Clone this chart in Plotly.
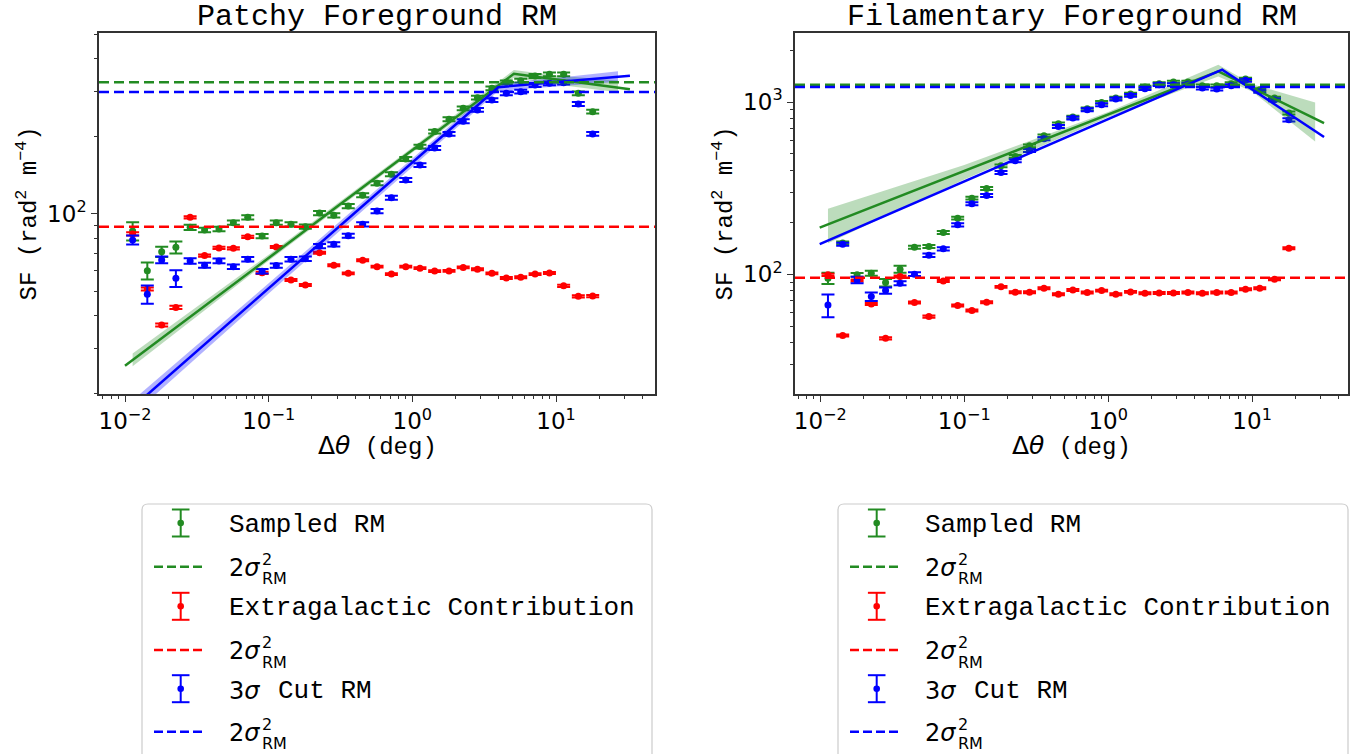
import plotly.graph_objects as go

W, H = 1354, 754

# ---------------- data ----------------
theta = [0.0113, 0.0143, 0.0180, 0.0226, 0.0284, 0.0358, 0.0451, 0.0568, 0.0715, 0.0900,
         0.113, 0.143, 0.180, 0.226, 0.284, 0.358, 0.451, 0.568, 0.715, 0.900,
         1.13, 1.43, 1.80, 2.26, 2.84, 3.58, 4.51, 5.68, 7.15, 9.00,
         11.3, 14.3, 18.0]

# Patchy foreground
patchy_sampled = [85.7, 60.0, 71.1, 74.0, 88.5, 86.4, 87.2, 92.3, 96.8, 81.8,
                  92.3, 90.9, 89.0, 100.6, 98.6, 107.1, 118.0, 131.3, 142.3, 163.2,
                  182.4, 208.6, 233.0, 257.0, 282.7, 307.3, 324.4, 329.3, 343.4, 348.7,
                  348.7, 294.0, 249.5]
patchy_sampled_err = [7.0, 4.6, 3.3, 4.0, 2.0, 1.8, 1.8, 1.8, 1.9, 1.6,
                      1.8, 1.8, 1.7, 1.9, 1.9, 2.0, 2.2, 2.4, 2.6, 2.9,
                      3.2, 3.6, 4.0, 4.4, 4.8, 5.2, 5.5, 5.6, 5.8, 5.9,
                      5.9, 5.0, 4.2]
patchy_extragal = [83.4, 50.9, 36.9, 43.2, 96.8, 68.7, 73.6, 73.3, 81.3, 58.9,
                   74.2, 55.2, 52.8, 70.5, 63.0, 58.6, 65.9, 62.2, 58.2, 62.2,
                   61.4, 59.8, 59.9, 61.8, 60.8, 58.6, 56.2, 56.6, 58.2, 58.8,
                   52.4, 47.7, 47.8]
patchy_extragal_err = [1.2, 0.7, 0.5, 0.6, 1.0, 0.7, 0.7, 0.7, 0.8, 0.6,
                       0.7, 0.5, 0.5, 0.6, 0.6, 0.5, 0.6, 0.5, 0.5, 0.5,
                       0.5, 0.5, 0.5, 0.5, 0.5, 0.5, 0.5, 0.5, 0.5, 0.5,
                       0.5, 0.5, 0.5]
patchy_cut = [79.0, 48.6, 66.1, 56.1, 65.5, 63.0, 65.5, 62.2, 66.5, 59.7,
              62.8, 66.5, 66.8, 74.8, 76.0, 82.1, 90.9, 102.4, 115.4, 135.3,
              154.6, 180.2, 204.3, 228.9, 253.3, 276.8, 294.0, 298.3, 316.7, 321.6,
              323.3, 267.2, 204.3]
patchy_cut_err = [3.2, 4.0, 2.0, 4.2, 1.6, 1.4, 1.4, 1.3, 1.4, 1.2,
                  1.2, 1.3, 1.3, 1.4, 1.4, 1.5, 1.7, 1.9, 2.1, 2.4,
                  2.7, 3.1, 3.5, 3.9, 4.3, 4.7, 5.0, 5.1, 5.4, 5.5,
                  5.5, 4.6, 3.5]
patchy_var_sampled = 324.3
patchy_var_extragal = 89.0
patchy_var_cut = 297.6

patchy_fit_sampled_x = [0.01, 5.09, 32.7]
patchy_fit_sampled_y = [25.6, 350.0, 305.0]
patchy_fit_cut_x = [0.01, 3.96, 32.7]
patchy_fit_cut_y = [16.6, 310.5, 344.0]
patchy_band_sampled_x = [0.0113, 0.1, 1.0, 5.09, 10.0, 27.0]
patchy_band_sampled_lo = [25.5, 65.6, 173.0, 338.0, 318.0, 297.0]
patchy_band_sampled_hi = [28.6, 69.3, 181.0, 362.0, 345.0, 330.0]
patchy_band_cut_x = [0.0113, 0.1, 1.0, 3.96, 10.0, 27.0]
patchy_band_cut_lo = [16.5, 48.9, 152.0, 300.0, 313.0, 326.0]
patchy_band_cut_hi = [18.8, 53.6, 164.0, 321.0, 337.0, 358.0]

# Filamentary foreground
fil_sampled = [94.8, 152.0, 99.1, 101.3, 89.4, 106.9, 143.5, 144.7, 174.6, 211.5,
               276.5, 314.6, 426.3, 483.0, 557.0, 636.8, 747.6, 817.6, 914.0, 994.9,
               1054.0, 1112.0, 1222.0, 1278.0, 1307.0, 1307.0, 1244.0, 1244.0, 1278.0, 1360.0,
               1179.0, 1054.0, 862.8]
fil_sampled_err = [7.0, 3.0, 2.5, 3.3, 4.5, 5.0, 3.0, 3.0, 3.5, 4.0,
                   5.0, 6.0, 8.0, 9.0, 10.0, 12.0, 14.0, 15.0, 17.0, 18.0,
                   19.0, 20.0, 22.0, 23.0, 23.0, 23.0, 22.0, 22.0, 23.0, 25.0,
                   22.0, 20.0, 17.0]
fil_extragal = [99.1, 44.0, 92.0, 67.2, 42.4, 96.9, 68.4, 56.7, 91.4, 65.7,
                61.5, 68.7, 84.4, 78.6, 78.6, 82.9, 76.5, 81.0, 78.2, 80.3,
                76.5, 78.9, 77.5, 77.8, 77.8, 78.2, 77.5, 78.2, 78.2, 81.8,
                82.9, 93.5, 141.6]
fil_extragal_err = [1.5, 0.6, 1.2, 0.9, 0.6, 1.3, 0.9, 0.8, 1.2, 0.9,
                    0.8, 0.9, 1.1, 1.0, 1.0, 1.1, 1.0, 1.1, 1.0, 1.0,
                    1.0, 1.0, 1.0, 1.0, 1.0, 1.0, 1.0, 1.0, 1.0, 1.1,
                    1.1, 1.2, 1.8]
fil_cut = [66.3, 149.4, 92.7, 74.1, 80.3, 88.6, 100.0, 128.9, 140.3, 193.4,
           256.3, 286.5, 389.9, 455.8, 523.3, 611.8, 721.7, 806.8, 902.0, 964.5,
           1041.0, 1093.0, 1195.0, 1261.0, 1261.0, 1272.0, 1206.0, 1190.0, 1244.0, 1336.0,
           1153.0, 1031.0, 789.0]
fil_cut_err = [10.0, 3.0, 4.0, 4.2, 3.4, 2.5, 2.5, 3.0, 3.0, 4.0,
               5.0, 6.0, 8.0, 9.0, 10.0, 12.0, 14.0, 15.0, 17.0, 18.0,
               19.0, 20.0, 22.0, 23.0, 23.0, 23.0, 22.0, 22.0, 23.0, 25.0,
               22.0, 20.0, 17.0]
fil_var_sampled = 1261.0
fil_var_extragal = 95.5
fil_var_cut = 1223.0

fil_fit_sampled_x = [0.0099, 5.82, 31.6]
fil_fit_sampled_y = [186.6, 1507.0, 755.0]
fil_fit_cut_x = [0.0099, 6.19, 31.6]
fil_fit_cut_y = [149.4, 1542.0, 626.0]
fil_band_sampled_x = [0.0113, 0.1, 1.0, 5.82, 10.0, 27.4]
fil_band_sampled_lo = [151.0, 355.0, 815.0, 1409.0, 1150.0, 590.0]
fil_band_sampled_hi = [240.0, 431.0, 875.0, 1648.0, 1270.0, 995.0]

titles = ["Patchy Foreground RM", "Filamentary Foreground RM"]
legend_labels = ["Sampled RM", "Extragalactic Contribution", "Cut RM"]

GREEN = "#228B22"
RED = "#FF0000"
BLUE = "#0000FF"
GREEN_BAND = "rgba(34,139,34,0.30)"
BLUE_BAND = "rgba(0,0,255,0.30)"
AXC = "#333333"

MONO = "Liberation Mono"
SANS = "DejaVu Sans"


def X(px):
    return px / W


def Y(py):
    return 1 - py / H


fig = go.Figure()


def add_points(x, y, err, color, xa, ya):
    fig.add_trace(go.Scatter(
        x=x, y=y, mode="markers", xaxis=xa, yaxis=ya, showlegend=False,
        marker=dict(color=color, size=7),
        error_y=dict(type="data", array=err, color=color, thickness=2, width=6.5)))


def add_band(x, lo, hi, fill, xa, ya):
    fig.add_trace(go.Scatter(
        x=list(x) + list(x)[::-1], y=list(hi) + list(lo)[::-1], mode="lines",
        fill="toself", fillcolor=fill, line=dict(width=0), xaxis=xa, yaxis=ya,
        showlegend=False, hoverinfo="skip"))


def add_fit(x, y, color, xa, ya):
    fig.add_trace(go.Scatter(x=x, y=y, mode="lines", line=dict(color=color, width=2.5),
                             xaxis=xa, yaxis=ya, showlegend=False))


shapes = []


def add_hline(val, color, xa, ya):
    shapes.append(dict(type="line", xref=f"{xa} domain", yref=ya, x0=0, x1=1, y0=val, y1=val,
                       line=dict(color=color, width=2.5, dash="10px,5px"), layer="above"))


panels = [
    dict(xa="x", ya="y",
         g=(patchy_sampled, patchy_sampled_err), r=(patchy_extragal, patchy_extragal_err),
         b=(patchy_cut, patchy_cut_err),
         var=(patchy_var_sampled, patchy_var_extragal, patchy_var_cut),
         fg=(patchy_fit_sampled_x, patchy_fit_sampled_y), fb=(patchy_fit_cut_x, patchy_fit_cut_y),
         bands=[(patchy_band_sampled_x, patchy_band_sampled_lo, patchy_band_sampled_hi, GREEN_BAND),
                (patchy_band_cut_x, patchy_band_cut_lo, patchy_band_cut_hi, BLUE_BAND)]),
    dict(xa="x2", ya="y2",
         g=(fil_sampled, fil_sampled_err), r=(fil_extragal, fil_extragal_err),
         b=(fil_cut, fil_cut_err),
         var=(fil_var_sampled, fil_var_extragal, fil_var_cut),
         fg=(fil_fit_sampled_x, fil_fit_sampled_y), fb=(fil_fit_cut_x, fil_fit_cut_y),
         bands=[(fil_band_sampled_x, fil_band_sampled_lo, fil_band_sampled_hi, GREEN_BAND)]),
]

for p in panels:
    xa, ya = p["xa"], p["ya"]
    add_points(theta, p["g"][0], p["g"][1], GREEN, xa, ya)
    add_hline(p["var"][0], GREEN, xa, ya)
    add_points(theta, p["r"][0], p["r"][1], RED, xa, ya)
    add_hline(p["var"][1], RED, xa, ya)
    add_points(theta, p["b"][0], p["b"][1], BLUE, xa, ya)
    add_hline(p["var"][2], BLUE, xa, ya)
    for bx, blo, bhi, bc in p["bands"]:
        add_band(bx, blo, bhi, bc, xa, ya)
    add_fit(p["fg"][0], p["fg"][1], GREEN, xa, ya)
    add_fit(p["fb"][0], p["fb"][1], BLUE, xa, ya)

# ---------------- axes ----------------
x_minor = [m * 10.0 ** e for e in range(-3, 2) for m in range(2, 10)]
y_minor = [m * 10.0 ** e for e in range(1, 4) for m in range(2, 10)]


def xaxis_cfg(dom, rng, anchor):
    return dict(type="log", domain=dom, range=rng, anchor=anchor, automargin=False,
                tickmode="array", tickvals=[0.01, 0.1, 1, 10],
                ticktext=["10<sup>−2</sup>", "10<sup>−1</sup>", "10<sup>0</sup>", "10<sup>1</sup>"],
                ticks="outside", ticklen=6, tickwidth=1.3, tickcolor=AXC,
                minor=dict(tickmode="array", tickvals=x_minor, ticks="outside", ticklen=3.5,
                           tickwidth=1, tickcolor=AXC, showgrid=False),
                showline=True, linecolor=AXC, linewidth=1.5, mirror=True,
                showgrid=False, zeroline=False,
                tickfont=dict(family=SANS, size=23, color="black"))


def yaxis_cfg(dom, rng, anchor, vals, texts):
    return dict(type="log", domain=dom, range=rng, anchor=anchor, automargin=False,
                tickmode="array", tickvals=vals, ticktext=texts,
                ticks="outside", ticklen=6, tickwidth=1.3, tickcolor=AXC,
                minor=dict(tickmode="array", tickvals=y_minor, ticks="outside", ticklen=3.5,
                           tickwidth=1, tickcolor=AXC, showgrid=False),
                showline=True, linecolor=AXC, linewidth=1.5, mirror=True,
                showgrid=False, zeroline=False,
                tickfont=dict(family=SANS, size=23, color="black"))


ydom = [Y(394), Y(33)]
L_AX = (99, 655)
R_AX = (795, 1348)

layout_axes = dict(
    xaxis=xaxis_cfg([X(L_AX[0]), X(L_AX[1])], [-2.181, 1.689], "y"),
    yaxis=yaxis_cfg(ydom, [1.2985, 2.703], "x", [100], ["10<sup>2</sup>"]),
    xaxis2=xaxis_cfg([X(R_AX[0]), X(R_AX[1])], [-2.176, 1.666], "y2"),
    yaxis2=yaxis_cfg(ydom, [1.304, 3.401], "x2", [100, 1000], ["10<sup>2</sup>", "10<sup>3</sup>"]),
)

# ---------------- text & legends ----------------
ann = []


def text(px, py, s, family, size, xanchor="left", angle=0):
    ann.append(dict(x=X(px), y=Y(py), xref="paper", yref="paper", text=s, showarrow=False,
                    xanchor=xanchor, yanchor="middle", textangle=angle, borderpad=0,
                    font=dict(family=family, size=size, color="black")))


def paper_line(x0, y0, x1, y1, color, width, dash="solid"):
    shapes.append(dict(type="line", xref="paper", yref="paper", x0=X(x0), y0=Y(y0), x1=X(x1),
                       y1=Y(y1), line=dict(color=color, width=width, dash=dash), layer="above"))


def errbar_glyph(cx, cy, color):
    paper_line(cx, cy - 13.5, cx, cy + 13.5, color, 2)
    paper_line(cx - 8.8, cy - 13.5, cx + 8.8, cy - 13.5, color, 2)
    paper_line(cx - 8.8, cy + 13.5, cx + 8.8, cy + 13.5, color, 2)
    shapes.append(dict(type="circle", xref="paper", yref="paper",
                       x0=X(cx - 3.3), x1=X(cx + 3.3), y0=Y(cy - 3.3), y1=Y(cy + 3.3),
                       fillcolor=color, line=dict(color=color, width=0), layer="above"))


def sigma_label(x0, cy):
    # 2σ with a stacked superscript "2" and subscript "RM" (as in mathtext)
    text(x0, cy + 0.8, "2<i>σ</i>", SANS, 24)
    text(x0 + 33, cy - 7.5, "2", SANS, 16)
    text(x0 + 33, cy + 12, "RM", SANS, 16)


for k, (ax0, ax1) in enumerate([L_AX, R_AX]):
    cx = (ax0 + ax1) / 2
    dx = ax0 - L_AX[0]
    text(cx, 17.5, titles[k], MONO, 30, xanchor="center")
    text(cx, 446, "<span style='font-family:DejaVu Sans;font-size:25px'>Δ<i>θ</i></span> (deg)",
         MONO, 24, xanchor="center")
    text(27 + dx, 213.5, "SF (rad<sup>2</sup> m<sup>−4</sup>)", MONO, 24, xanchor="center", angle=-90)

    # legend frame (extends past the bottom edge as in the reference)
    lx0, lx1, ly0, r = 142 + dx, 652 + dx, 504, 6
    path = (f"M {X(lx0)},{Y(790)} L {X(lx0)},{Y(ly0 + r)} Q {X(lx0)},{Y(ly0)} {X(lx0 + r)},{Y(ly0)} "
            f"L {X(lx1 - r)},{Y(ly0)} Q {X(lx1)},{Y(ly0)} {X(lx1)},{Y(ly0 + r)} L {X(lx1)},{Y(790)}")
    shapes.append(dict(type="path", xref="paper", yref="paper", path=path,
                       line=dict(color="#cccccc", width=1.2), layer="above"))

    gx = 180.7 + dx
    tx = 228 + dx
    rows = [525, 566.7, 608.3, 650, 690.7, 731.7]
    colors = [GREEN, RED, BLUE]
    for j in range(3):
        ye = rows[2 * j]
        yd = rows[2 * j + 1]
        errbar_glyph(gx, ye - 2, colors[j])
        paper_line(154 + dx, yd, 204 + dx, yd, colors[j], 2.5, dash="9px,4px")
        sigma_label(tx, yd)
    text(tx, rows[0], legend_labels[0], MONO, 26)
    text(tx, rows[2], legend_labels[1], MONO, 26)
    text(tx, rows[4], "3<i>σ</i>", SANS, 24)
    text(tx + 49, rows[4], legend_labels[2], MONO, 26)

fig.update_layout(
    width=W, height=H, margin=dict(l=0, r=0, t=0, b=0),
    paper_bgcolor="white", plot_bgcolor="white", showlegend=False,
    shapes=shapes, annotations=ann, **layout_axes)

fig.write_html("out.html")
